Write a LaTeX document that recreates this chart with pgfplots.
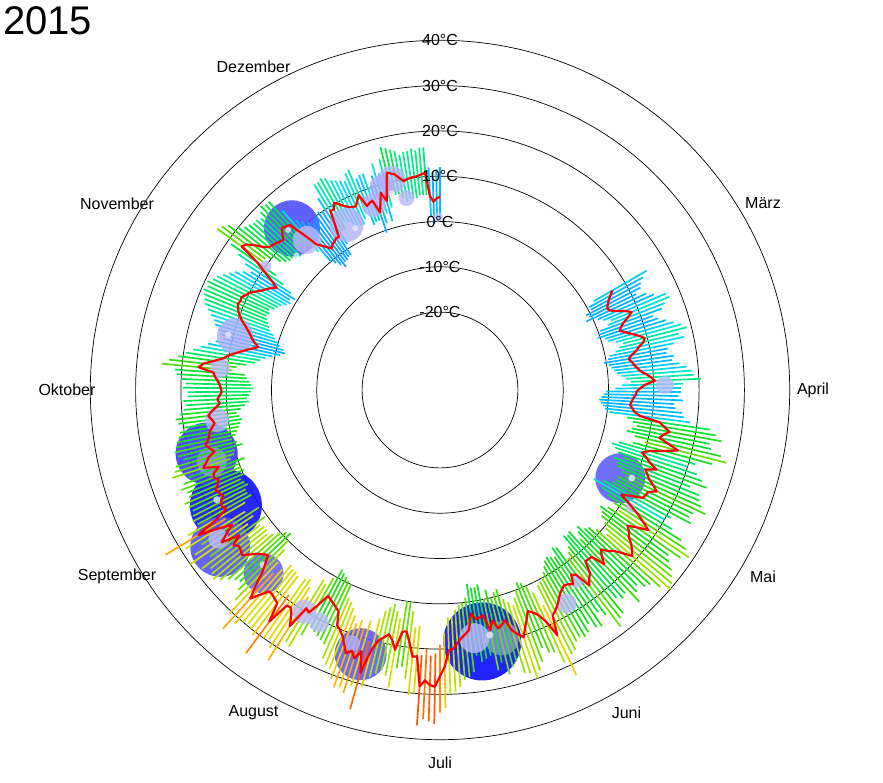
\documentclass[border=0pt]{standalone}
\usepackage{pgfplots}
\pgfplotsset{compat=1.18}
\usepackage{pgfplotstable}
\usepackage{fontspec}
\setmainfont{Liberation Sans}

\pgfplotstableread{
i t lo hi
0 6.7 2.0 15.5
1 5.8 0.5 14.0
2 5.0 0.5 13.0
3 4.4 -1.0 12.5
4 3.9 -0.5 11.0
5 4.2 -1.5 13.0
6 5.5 1.0 14.5
7 7.2 2.0 17.0
8 8.5 3.5 17.5
9 7.3 2.5 16.0
10 6.0 0.5 15.0
11 5.1 0.0 12.5
12 4.6 -0.5 13.5
13 5.8 1.0 15.0
14 7.0 1.5 16.5
15 8.3 3.0 18.0
16 9.4 4.5 19.0
17 9.0 3.5 17.0
18 7.8 2.5 18.0
19 7.0 1.0 15.5
20 5.8 0.5 14.0
21 5.0 -0.5 13.5
22 5.6 0.5 15.0
23 6.0 1.0 14.5
24 6.6 1.5 16.0
25 7.2 2.0 17.5
26 8.4 3.0 18.5
27 9.5 4.0 19.0
28 10.3 5.0 20.5
29 8.1 3.0 16.5
30 7.0 1.5 16.0
31 6.2 -0.5 16.0
32 6.0 -1.0 15.5
33 5.5 -1.5 16.5
34 5.2 -2.0 14.5
35 4.9 -1.5 15.0
36 5.4 -1.0 16.5
37 6.0 -0.5 17.0
38 7.3 0.5 18.5
39 11.8 4.5 23.0
40 13.0 6.0 24.5
41 14.3 7.0 26.0
42 13.1 6.0 23.5
43 12.4 5.0 24.0
44 14.6 7.0 26.5
45 17.0 9.5 28.0
46 14.0 7.0 25.0
47 11.0 4.0 21.5
48 9.5 2.5 20.0
49 10.8 3.5 22.5
50 12.0 4.5 24.0
51 13.7 6.0 25.5
52 11.4 4.0 22.0
53 12.2 5.0 24.5
54 13.0 5.5 25.0
55 14.4 7.0 26.0
56 15.6 8.0 27.5
57 14.0 6.5 25.0
58 13.8 6.5 24.5
59 13.5 6.0 25.5
60 11.0 4.0 21.0
61 9.0 2.0 20.0
62 11.5 4.5 22.5
63 14.0 6.5 25.5
64 16.2 8.5 27.5
65 18.2 10.5 29.0
66 15.8 8.0 27.5
67 13.9 6.5 25.0
68 15.0 7.5 26.0
69 15.6 8.0 27.5
70 17.0 9.5 28.5
71 18.0 10.5 29.5
72 18.9 11.5 30.0
73 16.8 9.0 28.0
74 15.1 7.5 26.0
75 14.2 7.0 25.5
76 12.8 5.5 24.0
77 14.0 6.5 25.0
78 15.6 8.0 27.0
79 12.6 5.0 23.5
80 12.5 5.5 24.0
81 12.4 5.0 23.0
82 15.0 7.5 26.5
83 15.9 8.5 27.0
84 17.1 9.5 28.5
85 13.5 6.0 24.5
86 12.8 5.5 23.0
87 14.8 7.5 26.0
88 14.2 7.0 25.5
89 13.9 6.5 24.0
90 14.4 7.0 25.5
91 15.0 8.0 26.0
92 16.0 9.0 25.5
93 17.0 10.0 26.0
94 17.8 10.5 27.5
95 18.4 11.0 28.0
96 22.8 15.5 32.5
97 19.0 12.0 29.0
98 17.0 10.0 26.0
99 16.0 9.0 25.5
100 15.3 8.5 24.0
101 17.0 10.0 27.0
102 18.6 11.5 28.5
103 20.4 13.0 30.0
104 19.4 12.0 28.5
105 18.3 11.0 28.0
106 15.6 8.5 25.0
107 16.4 9.0 26.0
108 17.0 10.0 27.5
109 15.0 8.0 24.5
110 17.0 10.0 26.0
111 13.4 6.5 22.5
112 13.8 7.0 23.0
113 14.0 7.0 23.5
114 12.6 6.0 22.0
115 16.2 9.0 25.5
116 17.0 10.0 26.5
117 17.8 10.5 27.0
118 18.8 11.5 28.5
119 20.0 13.0 29.5
120 20.3 13.0 30.0
121 23.9 16.5 33.0
122 26.0 19.0 34.0
123 28.3 21.0 36.5
124 28.0 21.5 36.0
125 27.0 20.0 35.5
126 28.4 21.5 37.0
127 21.8 15.0 30.0
128 22.0 15.5 30.5
129 19.0 12.0 27.0
130 16.6 10.0 24.5
131 16.8 10.0 25.0
132 21.0 14.0 29.5
133 19.0 12.5 27.0
134 17.9 11.0 26.0
135 18.8 12.0 27.0
136 19.7 13.0 28.0
137 22.0 15.0 30.5
138 27.7 20.5 36.0
139 23.0 16.0 31.0
140 25.0 18.0 33.0
141 23.6 16.5 32.0
142 24.5 17.5 32.5
143 22.8 16.0 31.0
144 21.2 14.5 29.0
145 20.2 13.5 28.5
146 19.5 13.0 27.5
147 16.6 10.0 24.5
148 16.0 9.5 24.0
149 15.5 9.0 23.5
150 15.0 8.5 23.0
151 14.5 8.0 22.5
152 17.2 10.5 25.0
153 19.8 12.5 28.5
154 19.3 12.0 28.0
155 24.6 17.0 33.5
156 22.4 15.0 31.0
157 21.0 13.5 29.5
158 21.2 14.0 30.0
159 26.3 19.0 35.0
160 22.0 14.5 31.0
161 21.6 14.0 30.0
162 21.2 14.0 29.5
163 21.1 13.5 30.0
164 23.0 15.5 31.5
165 25.0 17.5 34.0
166 22.2 15.0 30.5
167 19.0 12.0 27.5
168 17.0 10.0 25.5
169 15.4 8.5 24.0
170 16.2 9.0 24.5
171 17.0 10.0 25.5
172 18.4 11.5 27.0
173 19.7 12.5 28.0
174 19.3 12.0 27.5
175 19.0 12.0 27.0
176 19.8 12.5 28.5
177 17.5 10.5 25.5
178 21.6 14.5 30.0
179 19.6 12.5 28.0
180 17.5 10.5 25.5
181 20.6 13.5 29.0
182 25.0 18.0 33.5
183 19.5 12.5 27.0
184 16.8 10.5 24.0
185 17.4 11.0 24.5
186 17.0 11.0 24.0
187 16.1 10.0 23.5
188 16.6 10.5 24.0
189 17.0 11.0 24.5
190 16.2 10.0 23.0
191 15.6 9.5 23.0
192 16.4 10.0 24.0
193 16.0 10.0 23.0
194 14.5 8.5 21.5
195 17.8 11.5 25.0
196 16.8 10.5 24.0
197 16.0 10.0 23.5
198 14.4 8.0 21.5
199 15.2 9.0 22.5
200 16.0 10.0 23.0
201 15.3 9.0 22.5
202 14.8 8.5 22.0
203 14.5 8.0 21.5
204 13.8 7.5 21.0
205 13.1 7.0 20.0
206 13.6 7.5 21.0
207 14.3 8.0 21.5
208 13.5 7.0 20.5
209 12.4 6.0 19.5
210 11.5 5.0 19.0
211 12.0 5.5 19.5
212 11.5 5.0 18.5
213 11.0 4.5 18.5
214 11.2 4.0 19.5
215 11.5 4.5 19.0
216 12.0 5.0 20.0
217 12.6 5.5 21.0
218 13.0 6.0 21.5
219 16.3 9.0 24.5
220 15.3 8.0 23.0
221 13.0 6.0 21.0
222 11.1 4.0 19.5
223 10.0 3.0 18.0
224 8.5 2.0 16.5
225 7.0 0.5 15.0
226 5.5 -1.0 13.5
227 4.0 -2.0 12.0
228 5.0 -1.5 13.0
229 5.8 -0.5 13.5
230 6.4 0.0 14.5
231 7.2 1.0 15.0
232 8.0 1.5 16.0
233 9.0 2.5 17.0
234 9.8 3.0 18.0
235 10.5 3.5 18.5
236 10.9 4.0 19.0
237 11.3 4.5 19.5
238 11.0 4.0 19.0
239 11.2 4.5 19.5
240 10.5 3.5 18.5
241 10.0 3.0 18.0
242 9.0 2.5 17.0
243 8.0 1.5 16.0
244 7.2 1.0 15.0
245 6.5 1.5 13.5
246 5.3 0.5 12.0
247 7.0 2.0 14.0
248 9.5 4.5 16.5
249 12.0 7.0 19.0
250 16.8 11.0 23.5
251 16.3 11.0 23.0
252 15.0 10.0 22.0
253 13.2 8.0 20.0
254 12.0 7.0 19.0
255 11.7 6.5 18.5
256 11.4 6.5 18.0
257 11.0 6.0 18.0
258 10.7 5.5 17.5
259 11.8 6.5 18.5
260 12.8 7.5 19.5
261 12.4 7.5 19.0
262 12.0 7.0 19.0
263 8.6 3.5 15.5
264 5.0 0.0 12.0
265 4.0 -1.0 11.0
266 3.0 -2.0 10.0
267 2.1 -3.0 9.0
268 2.8 -2.0 9.5
269 3.0 -2.0 10.0
270 3.4 -1.5 10.5
271 3.3 -1.5 10.0
272 6.0 1.0 13.0
273 9.2 4.0 16.0
274 9.0 4.0 16.0
275 10.3 5.5 16.5
276 9.5 5.0 16.0
277 8.6 4.0 15.0
278 8.0 3.5 14.5
279 7.6 3.0 14.0
280 7.4 3.0 13.5
281 8.4 4.0 15.0
282 9.4 5.0 15.5
283 6.5 2.0 13.0
284 6.9 2.5 13.5
285 7.2 2.5 13.5
286 4.2 -0.5 10.5
287 6.0 1.5 12.5
288 8.3 3.5 15.0
289 6.1 1.5 12.5
290 9.0 4.5 15.5
291 12.2 7.5 18.0
292 11.8 7.0 17.5
293 11.4 7.0 17.0
294 10.4 6.0 16.5
295 9.6 5.0 15.5
296 9.9 5.5 16.0
297 10.1 5.5 16.0
298 10.2 5.5 16.5
299 10.3 6.0 16.0
300 10.6 6.0 16.5
301 10.8 6.0 16.5
302 5.6 1.0 12.0
303 4.4 -0.5 11.0
304 5.1 0.5 11.5
305 5.5 1.0 12.0
}\daily

% heavy precipitation (drawn below the bars)
\pgfplotstableread{
i t s c
112.3 19.1 39 30.7
184.7 16.5 36 30.1
198.0 16.2 31 25.0
177.4 22.4 30 21.8
261.8 11.2 28 22.4
139.0 23.7 26 21.1
57.0 7.1 25 20.5
166.6 19.0 20 19.8
107.8 19.3 17 16.0
195.8 15.6 15 14.7
}\precbig

% light precipitation (drawn over the bars)
\pgfplotstableread{
i t s c
228.5 9.6 18 10.9
275.0 4.7 17 10.6
114.0 18.1 15 9.0
262.7 7.1 14 9.6
291.8 10.4 14 10.2
205.7 12.5 12 10.2
285.0 6.2 12 10.2
288.7 9.5 12 10.9
154.0 20.2 12 9.6
219.3 11.6 10 9.6
90.8 17.6 10 9.6
150.0 20.6 10 9.0
179.1 21.7 10 9.0
141.5 22.0 8 10.9
29.2 12.5 9 9.6
294.9 5.8 8 9.6
85.9 14.8 6 9.6
249.3 10.0 6 9.6
304.3 1.0 5 8.0
62.8 12.2 5 8.0
55.6 9.4 3.5 1.0
110.3 18.0 3.5 1.0
186.9 17.7 3.5 1.0
168.1 17.7 3.5 1.0
276.9 3.1 3 1.0
291.0 7.5 3 1.0
260.8 11.5 3 1.0
257.5 6.3 2.5 1.0
228.4 11.1 3 1.0
}\precsmall

\pgfplotsset{
 colormap={barmap}{rgb255(0cm)=(30,144,255) rgb255(6cm)=(0,191,255) rgb255(8cm)=(0,229,229) rgb255(10cm)=(0,238,140) rgb255(12cm)=(0,230,70) rgb255(15cm)=(40,220,20) rgb255(18cm)=(140,225,0) rgb255(21cm)=(215,225,0) rgb255(24cm)=(255,195,0) rgb255(26cm)=(255,140,0) rgb255(29cm)=(255,70,0) rgb255(32cm)=(255,0,0)},
 colormap={precmap}{rgb255(0cm)=(240,240,255) rgb255(9.6cm)=(185,185,250) rgb255(32cm)=(0,0,255)},
 precstyle/.style={scatter, only marks, mark=*, point meta=\thisrow{c},
  colormap name=precmap,
  scatter/use mapped color={draw=mapped color, fill=mapped color},
  visualization depends on={\thisrow{s} \as \psize},
  scatter/@pre marker code/.append style={/tikz/mark size=\psize pt}},
}

\begin{document}
\begin{tikzpicture}
\begin{axis}[x=1pt, y=1pt, xmin=0, xmax=883, ymin=0, ymax=782,
  hide axis, clip=false, clip mode=individual,
  point meta min=0, point meta max=32]
\fill[white] (axis cs:0,0) rectangle (axis cs:883,782);
% grid circles
\draw[line width=0.7pt] (axis cs:440,392) circle[radius=77.9pt];
\draw[line width=0.7pt] (axis cs:440,392) circle[radius=123.2pt];
\draw[line width=0.7pt] (axis cs:440,392) circle[radius=168.5pt];
\draw[line width=0.7pt] (axis cs:440,392) circle[radius=213.8pt];
\draw[line width=0.7pt] (axis cs:440,392) circle[radius=259.1pt];
\draw[line width=0.7pt] (axis cs:440,392) circle[radius=304.4pt];
\draw[line width=0.7pt] (axis cs:440,392) circle[radius=349.7pt];

% heavy precipitation circles
\addplot[precstyle, mark options={draw opacity=0, fill opacity=0.9}]
  table[x expr={440+(168.5+4.53*\thisrow{t})*sin(60+\thisrow{i}*300/305)},
        y expr={392+(168.5+4.53*\thisrow{t})*cos(60+\thisrow{i}*300/305)}] {\precbig};

% daily min-max bars
\addplot[quiver={u={4.53*(\thisrow{hi}-\thisrow{lo})*sin(60+\thisrow{i}*300/305)},
                 v={4.53*(\thisrow{hi}-\thisrow{lo})*cos(60+\thisrow{i}*300/305)},
                 colored},
  point meta=\thisrow{t},
  colormap name=barmap, line width=1.7pt]
  table[x expr={440+(168.5+4.53*\thisrow{lo})*sin(60+\thisrow{i}*300/305)},
        y expr={392+(168.5+4.53*\thisrow{lo})*cos(60+\thisrow{i}*300/305)}] {\daily};

% light precipitation circles
\addplot[precstyle, mark options={draw opacity=0, fill opacity=0.8}]
  table[x expr={440+(168.5+4.53*\thisrow{t})*sin(60+\thisrow{i}*300/305)},
        y expr={392+(168.5+4.53*\thisrow{t})*cos(60+\thisrow{i}*300/305)}] {\precsmall};

% daily mean
\addplot[red, line width=2.2pt, line join=round, no markers]
  table[x expr={440+(168.5+4.53*\thisrow{t})*sin(60+\thisrow{i}*300/305)},
        y expr={392+(168.5+4.53*\thisrow{t})*cos(60+\thisrow{i}*300/305)}] {\daily};

% temperature labels
\begin{scope}[every node/.style={font=\fontsize{16}{18}\selectfont, inner sep=0pt}]
\node at (axis cs:440,741.7) {40°C};
\node at (axis cs:440,696.4) {30°C};
\node at (axis cs:440,651.1) {20°C};
\node at (axis cs:440,605.8) {10°C};
\node at (axis cs:440,560.5) {0°C};
\node at (axis cs:440,515.2) {-10°C};
\node at (axis cs:440,469.9) {-20°C};
% month labels
\node at (axis cs:763.0,578.5) {März};
\node at (axis cs:813.0,392.0) {April};
\node at (axis cs:763.0,205.5) {Mai};
\node at (axis cs:626.5,69.0) {Juni};
\node at (axis cs:440.0,19.0) {Juli};
\node at (axis cs:253.5,69.0) {August};
\node at (axis cs:117.0,205.5) {September};
\node at (axis cs:67.0,392.0) {Oktober};
\node at (axis cs:117.0,578.5) {November};
\node at (axis cs:253.5,715.0) {Dezember};
\end{scope}
\node[anchor=base west, inner sep=0pt, font=\fontsize{40}{40}\selectfont] at (axis cs:3,747) {2015};
\end{axis}
\end{tikzpicture}
\end{document}
